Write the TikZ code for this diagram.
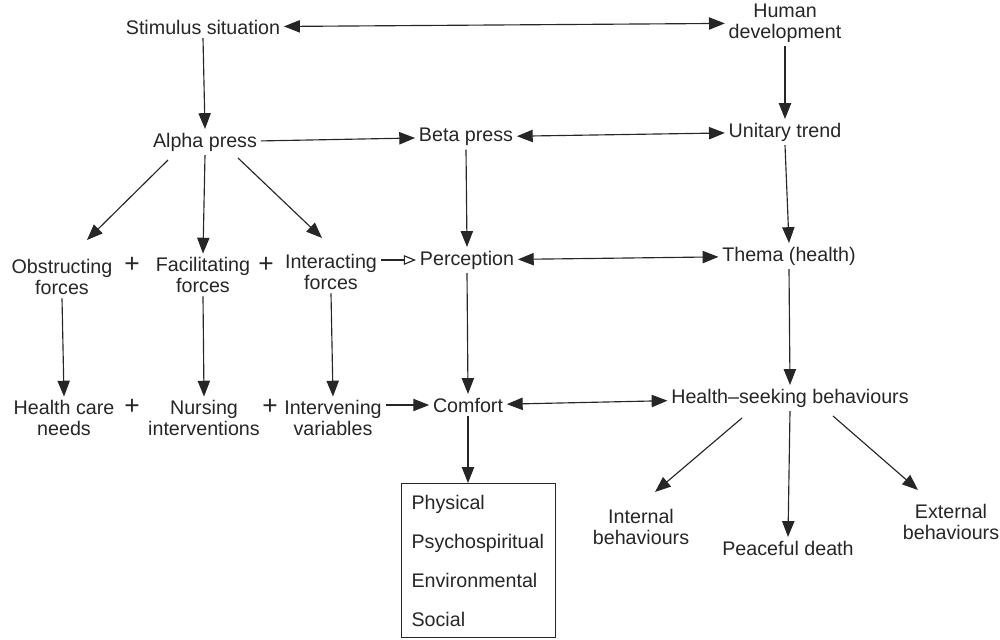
\documentclass[tikz,border=0pt]{standalone}
\usepackage{fontspec}
\setmainfont{Liberation Sans}
\usetikzlibrary{calc, arrows.meta}

\begin{document}
\begin{tikzpicture}[x=0.02cm, y=-0.02cm,
  ink/.style={black!85},
  lbl/.style={ink, font=\fontsize{11.2}{11.8}\selectfont, align=center, inner sep=2pt},
  plus/.style={ink, font=\fontsize{15}{15}\selectfont, inner sep=1pt},
  arr/.style={ink, line width=0.65pt, -{Triangle[length=9pt, width=7pt]}},
  darr/.style={ink, line width=0.65pt, {Triangle[length=9pt, width=7pt]}-{Triangle[length=9pt, width=7pt]}},
  oarr/.style={ink, line width=0.65pt, -{Triangle[open, length=7pt, width=5.5pt]}}]

% 画布大小
\useasboundingbox (0,0) rectangle (1000,639);

% 第一行
\node[lbl] (stim) at (203,27) {Stimulus situation};
\node[lbl] (human) at (785,23) {Human\\development};

% 第二行
\node[lbl] (alpha) at (205,142) {Alpha press};
\node[lbl] (beta) at (466,137) {Beta press};
\node[lbl] (unitary) at (785,132) {Unitary trend};

% 第三行
\node[lbl] (obstr) at (62,277) {Obstructing\\forces};
\node[plus] (plusa) at (132,265) {+};
\node[lbl] (facil) at (203,275) {Facilitating\\forces};
\node[plus] (plusb) at (266,265) {+};
\node[lbl] (inter) at (331,272) {Interacting\\forces};
\node[lbl] (percep) at (467,260) {Perception};
\node[lbl] (thema) at (789,256) {Thema (health)};

% 第四行
\node[lbl] (hcneeds) at (64,418) {Health care\\needs};
\node[plus] (plusc) at (132,407) {+};
\node[lbl] (nursing) at (204,418) {Nursing\\interventions};
\node[plus] (plusd) at (270,407) {+};
\node[lbl] (interv) at (333,418) {Intervening\\variables};
\node[lbl] (comfort) at (468,405) {Comfort};
\node[lbl] (hsb) at (790,398) {Health--seeking behaviours};

% 舒适的四个方面
\node[lbl, draw, line width=0.65pt, anchor=north west, align=left,
  text width=76pt, inner xsep=5.7pt, minimum height=87.6pt] (aspects) at (401,483)
  {Physical\\[10.4pt]Psychospiritual\\[10.4pt]Environmental\\[10.4pt]Social};

% 第五行
\node[lbl] (internal) at (641,527) {Internal\\behaviours};
\node[lbl] (peace) at (788,548) {Peaceful death};
\node[lbl] (external) at (951,522) {External\\behaviours};

% 横向箭头
\draw[darr] (stim) -- (human);
\draw[arr] (alpha) -- (beta);
\draw[darr] (beta) -- (unitary);
\draw[oarr] (percep.west -| inter.east) -- (percep.west);
\draw[darr] (percep) -- (thema);
\draw[arr] (comfort.west -| interv.east) -- (comfort.west);
\draw[darr] (comfort) -- (hsb);

% 纵向箭头
\draw[arr] (stim.south) -- (alpha.north);
\draw[arr] (human.south) -- (unitary.north);
\draw[arr] (beta.south) -- (percep.north);
\draw[arr] (unitary.south) -- (thema.north);
\draw[arr] (percep.south) -- (comfort.north);
\draw[arr] (thema.south) -- (hsb.north);
\draw[arr] (obstr.south) -- (hcneeds.north);
\draw[arr] (facil.south) -- (nursing.north);
\draw[arr] (inter.south) -- (interv.north);
\draw[arr] (comfort.south) -- (comfort.south |- aspects.north);

% 斜向箭头：alpha press 分三支
\draw[arr] ($(alpha)+(-37,18)$) -- ($(obstr)+(25,-37)$);
\draw[arr] (alpha.south) -- (facil.north);
\draw[arr] ($(alpha)+(33,16)$) -- ($(inter)+(-9,-34)$);

% 斜向箭头：health-seeking behaviours 分三支
\draw[arr] ($(hsb)+(-48,20)$) -- ($(internal)+(14,-35)$);
\draw[arr] (hsb.south) -- (peace.north);
\draw[arr] ($(hsb)+(43,18)$) -- ($(external)+(-33,-32)$);

\end{tikzpicture}
\end{document}
